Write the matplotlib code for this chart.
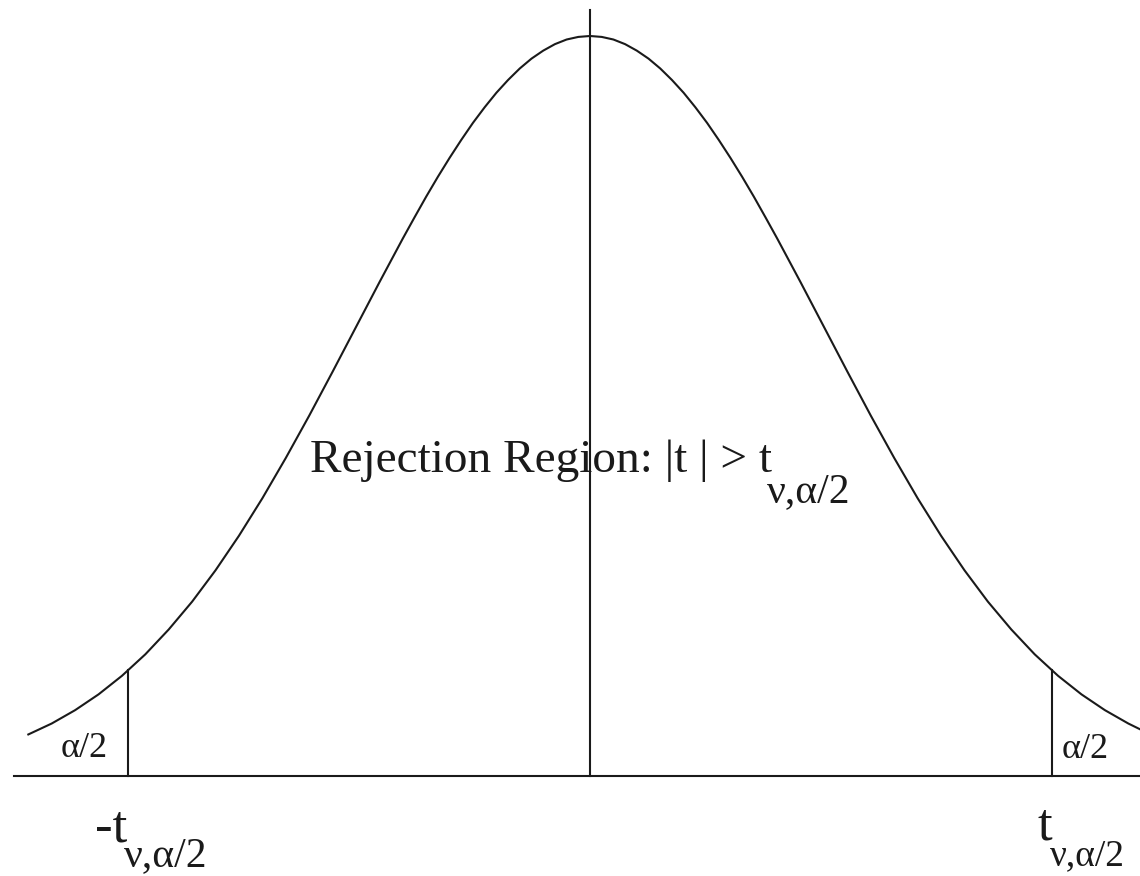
import matplotlib
matplotlib.use("Agg")
import matplotlib.pyplot as plt

# curve (t-distribution shape, heights in density units)
t_values = [-2.4, -2.3, -2.2, -2.1, -2.0, -1.9, -1.8, -1.7, -1.6, -1.5, -1.4, -1.3,
            -1.2, -1.1, -1.0, -0.9, -0.8, -0.75, -0.7, -0.65, -0.6, -0.55, -0.5,
            -0.45, -0.4, -0.35, -0.3, -0.25, -0.2, -0.15, -0.1, -0.05,
            0.0, 0.05, 0.1, 0.15, 0.2, 0.25, 0.3, 0.35, 0.4, 0.45, 0.5, 0.55, 0.6,
            0.65, 0.7, 0.75, 0.8, 0.9, 1.0, 1.1, 1.2, 1.3,
            1.4, 1.5, 1.6, 1.7, 1.8, 1.9, 2.0, 2.1, 2.2, 2.3, 2.35]
density = [0.0224, 0.0283, 0.0355, 0.0440, 0.0540, 0.0656, 0.0790, 0.0940, 0.1109,
           0.1295, 0.1497, 0.1714, 0.1942, 0.2179, 0.2420, 0.2661, 0.2897, 0.3011,
           0.3123, 0.3230, 0.3332, 0.3429, 0.3521, 0.3605, 0.3683, 0.3752, 0.3814,
           0.3867, 0.3910, 0.3945, 0.3970, 0.3984,
           0.3989, 0.3984, 0.3970, 0.3945, 0.3910, 0.3867, 0.3814, 0.3752, 0.3683,
           0.3605, 0.3521, 0.3429, 0.3332, 0.3230, 0.3123, 0.3011, 0.2897, 0.2661,
           0.2420, 0.2179, 0.1942, 0.1714, 0.1497, 0.1295, 0.1109, 0.0940, 0.0790,
           0.0656, 0.0540, 0.0440, 0.0355, 0.0283, 0.0252]

critical = 1.975       # t_{nu, alpha/2}
crit_height = 0.0569   # curve height at the cut
center_top = 0.413     # centre line goes a bit above the peak
axis_start = -2.46

W, H = 1140, 876
fig = plt.figure(figsize=(W / 100, H / 100), dpi=100)
ax = fig.add_axes([0, 0, 1, 1])
ax.set_xlim(-2.521, 2.350)
ax.set_ylim(-0.0539, 0.4183)
ax.axis("off")

ink = "#1a1a1a"
lw = 1.5

ax.plot(t_values, density, color=ink, lw=lw, solid_joinstyle="round")
ax.plot([axis_start, 2.35], [0, 0], color=ink, lw=lw)
ax.plot([0, 0], [0, center_top], color=ink, lw=lw)
ax.plot([-critical, -critical], [0, crit_height], color=ink, lw=lw)
ax.plot([critical, critical], [0, crit_height], color=ink, lw=lw)

serif = ["Liberation Serif", "DejaVu Serif"]


def put(px, py, s, size):
    # place text by its left edge / baseline in pixel terms
    fig.text(px / W, 1 - py / H, s, fontsize=size, family=serif,
             color=ink, ha="left", va="baseline")


put(310, 472, "Rejection Region: |t | > t", 34)
put(767, 502, "\u03bd,\u03b1/2", 30)

put(61, 757, "\u03b1/2", 26)
put(1062, 758, "\u03b1/2", 26)

put(95, 841, "-t", 38)
put(124, 866, "\u03bd,\u03b1/2", 30)
put(1037, 840, "t", 38)
put(1050, 865, "\u03bd,\u03b1/2", 27)

fig.savefig("out.png", dpi=100, facecolor="white")
